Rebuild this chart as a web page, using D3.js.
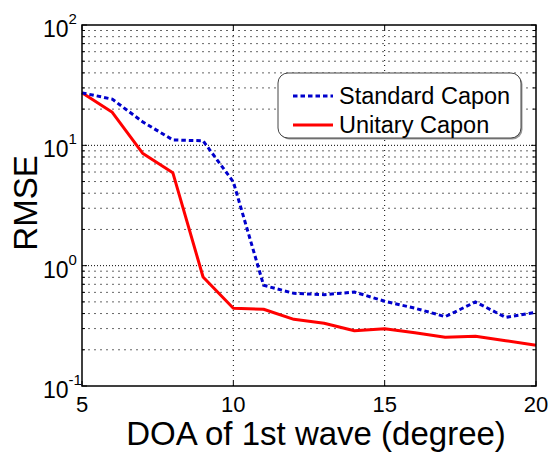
<!DOCTYPE html>
<html>
<head>
<meta charset="utf-8">
<script src="https://cdn.jsdelivr.net/npm/d3@7"></script>
<style>
  body { margin: 0; background: #fff; }
  text { font-family: "Liberation Sans", Arial, Helvetica, sans-serif; fill: #000; }
</style>
</head>
<body>
<div id="chart"></div>
<script>
// DOA values (degree)
const doa = [5, 6, 7, 8, 9, 10, 11, 12, 13, 14, 15, 16, 17, 18, 19, 20];
// RMSE of each method
const standardCapon = [27.3, 24.2, 15.7, 11.1, 10.9, 4.97, 0.687, 0.589, 0.574, 0.604, 0.506, 0.443, 0.377, 0.499, 0.372, 0.41];
const unitaryCapon = [27.3, 18.8, 8.6, 5.93, 0.805, 0.443, 0.434, 0.358, 0.332, 0.288, 0.299, 0.277, 0.254, 0.259, 0.238, 0.218];
const xTicks = [5, 10, 15, 20];
const yTickExps = [-1, 0, 1, 2];
const legendNames = ["Standard Capon", "Unitary Capon"];

const width = 552, height = 457;
const margin = { top: 25, right: 16, bottom: 71, left: 82 };
const w = width - margin.left - margin.right,
  h = height - margin.top - margin.bottom;

const svg = d3.select("#chart").append("svg")
  .attr("width", width)
  .attr("height", height);
const g = svg.append("g")
  .attr("transform", "translate(" + margin.left + "," + margin.top + ")");

const x = d3.scaleLinear().domain([5, 20]).range([0, w]);
const y = d3.scaleLog().domain([0.1, 100]).range([h, 0]);

// minor values 2..9 in each decade
let minorVals = [];
for (let e = -1; e < 2; e++) {
  for (let m = 2; m <= 9; m++) minorVals.push(m * Math.pow(10, e));
}

// grid
g.selectAll(".minor-grid").data(minorVals).enter().append("line")
  .attr("x1", 0).attr("x2", w)
  .attr("y1", d => y(d)).attr("y2", d => y(d))
  .attr("stroke", "#666").attr("stroke-width", 1)
  .attr("stroke-dasharray", "2,4");
g.selectAll(".major-grid").data([1, 10]).enter().append("line")
  .attr("x1", 0).attr("x2", w)
  .attr("y1", d => y(d)).attr("y2", d => y(d))
  .attr("stroke", "#000").attr("stroke-width", 1)
  .attr("stroke-dasharray", "1,2");
g.selectAll(".x-grid").data([10, 15]).enter().append("line")
  .attr("x1", d => x(d)).attr("x2", d => x(d))
  .attr("y1", 0).attr("y2", h)
  .attr("stroke", "#000").attr("stroke-width", 1)
  .attr("stroke-dasharray", "1,4");

// ticks on all four sides (pointing inward)
const tickG = g.append("g").attr("stroke", "#000").attr("stroke-width", 1);
minorVals.forEach(v => {
  tickG.append("line").attr("x1", 0).attr("x2", 3).attr("y1", y(v)).attr("y2", y(v));
  tickG.append("line").attr("x1", w).attr("x2", w - 3).attr("y1", y(v)).attr("y2", y(v));
});
yTickExps.forEach(e => {
  const v = Math.pow(10, e);
  tickG.append("line").attr("x1", 0).attr("x2", 5).attr("y1", y(v)).attr("y2", y(v));
  tickG.append("line").attr("x1", w).attr("x2", w - 5).attr("y1", y(v)).attr("y2", y(v));
});
xTicks.forEach(t => {
  tickG.append("line").attr("x1", x(t)).attr("x2", x(t)).attr("y1", h).attr("y2", h - 5);
  tickG.append("line").attr("x1", x(t)).attr("x2", x(t)).attr("y1", 0).attr("y2", 5);
});

// lines
const line = (vals) => d3.line()
  .x((d, i) => x(doa[i]))
  .y(d => y(d))(vals);

g.append("path")
  .attr("d", line(unitaryCapon))
  .attr("fill", "none")
  .attr("stroke", "#ff0000")
  .attr("stroke-width", 3)
  .attr("stroke-linejoin", "round");
g.append("path")
  .attr("d", line(standardCapon))
  .attr("fill", "none")
  .attr("stroke", "#0000cc")
  .attr("stroke-width", 3)
  .attr("stroke-dasharray", "4.5,3");

// frame
g.append("rect")
  .attr("width", w).attr("height", h)
  .attr("fill", "none").attr("stroke", "#000").attr("stroke-width", 1.5);

// x tick labels
g.selectAll(".x-label").data(xTicks).enter().append("text")
  .attr("x", d => x(d)).attr("y", h + 26)
  .attr("text-anchor", "middle")
  .style("font-size", "22px")
  .text(d => d);

// y tick labels 10^n
yTickExps.forEach(e => {
  const t = g.append("text")
    .attr("x", -39).attr("y", y(Math.pow(10, e)) + 12)
    .attr("text-anchor", "start")
    .style("font-size", "23px");
  t.append("tspan").text("10");
  t.append("tspan").attr("dy", -13).style("font-size", "15px").text(e);
});

// axis titles
svg.append("text")
  .attr("x", 316)
  .attr("y", 445)
  .attr("text-anchor", "middle")
  .style("font-size", "33px")
  .text("DOA of 1st wave (degree)");
svg.append("text")
  .attr("transform", "translate(37,203) rotate(-90)")
  .attr("text-anchor", "middle")
  .style("font-size", "33px")
  .text("RMSE");

// legend
const lg = svg.append("g").attr("transform", "translate(278,73)");
lg.append("rect")
  .attr("x", 1.5).attr("y", 1.5)
  .attr("width", 243).attr("height", 65)
  .attr("rx", 10)
  .attr("fill", "#999");
lg.append("rect")
  .attr("width", 243).attr("height", 65)
  .attr("rx", 10)
  .attr("fill", "#fff").attr("stroke", "#444").attr("stroke-width", 1);
const legendStyles = [
  { color: "#0000cc", dash: "4.5,3" },
  { color: "#ff0000", dash: null }
];
legendNames.forEach((name, i) => {
  const yy = 23 + i * 29;
  lg.append("line")
    .attr("x1", 15).attr("x2", 55)
    .attr("y1", yy).attr("y2", yy)
    .attr("stroke", legendStyles[i].color)
    .attr("stroke-width", 3)
    .attr("stroke-dasharray", legendStyles[i].dash);
  lg.append("text")
    .attr("x", 61).attr("y", yy + 8)
    .style("font-size", "23.5px")
    .text(name);
});
</script>
</body>
</html>
